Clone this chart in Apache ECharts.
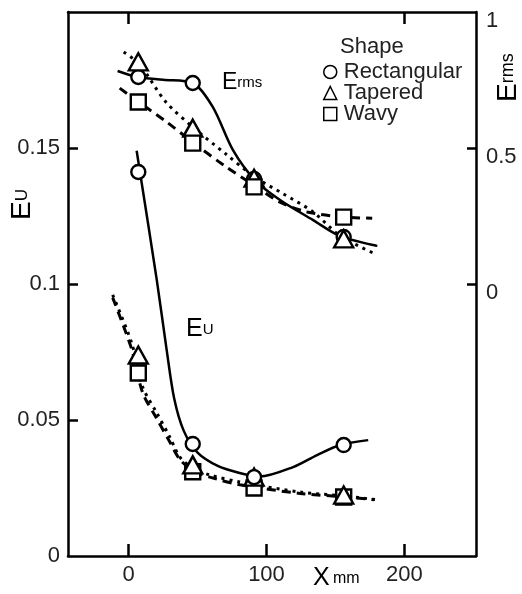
<!DOCTYPE html>
<html>
<head>
<meta charset="utf-8">
<script src="https://cdn.jsdelivr.net/npm/echarts@6/dist/echarts.min.js"></script>
<style>html,body{margin:0;padding:0;background:#fff}#c{width:522px;height:594px}</style>
</head>
<body>
<div id="c"></div>
<script>
// x positions (mm) of the measurement stations
const xStations = [7, 46.5, 91, 156];
// E_rms (right axis) marker values
const ermsRect = [0.761, 0.739, 0.386, 0.173];
const ermsTaper = [0.817, 0.573, 0.389, 0.166];
const ermsWavy = [0.669, 0.518, 0.357, 0.246];
// E_U (left axis) marker values
const euRect = [0.1412, 0.0412, 0.0290, 0.0408];
const euTaper = [0.0739, 0.0335, 0.0290, 0.0224];
const euWavy = [0.0673, 0.0310, 0.0250, 0.0217];
// fitted curves [x, value]
const ermsRectCurve = [[-8,0.783],[6.5,0.761],[25,0.751],[46.5,0.739],[61,0.651],[75.6,0.493],[91.6,0.382],[109.8,0.309],[133.8,0.235],[153.5,0.176],[180.4,0.140]];
const ermsTaperCurve = [[-3.6,0.853],[8,0.807],[27,0.669],[46.5,0.577],[70,0.480],[91.6,0.393],[112,0.332],[133.8,0.265],[153.5,0.177],[179,0.110]];
const ermsWavyCurve = [[-6.5,0.720],[7.3,0.669],[27,0.598],[47.3,0.518],[70,0.433],[91.6,0.361],[109.8,0.301],[129.5,0.265],[155.6,0.246],[176.7,0.242]];
const euRectCurve = [[5.8,0.149],[20.4,0.1015],[27.6,0.0757],[33,0.058],[40,0.046],[50,0.038],[65,0.033],[80.7,0.0305],[95,0.0292],[119.3,0.0327],[136.7,0.0371],[153.5,0.0408],[173.8,0.0426]];
const euTaperCurve = [[-11.6,0.0960],[2.2,0.0783],[10.2,0.0621],[20.4,0.0526],[29.8,0.0438],[37.1,0.0364],[46.5,0.0324],[58.9,0.0298],[80.7,0.0272],[124.4,0.0235],[155.6,0.0221],[181,0.0206]];
const euWavyCurve = [[-11.6,0.0950],[2.2,0.0760],[10.2,0.0600],[20.4,0.0505],[29.8,0.0420],[37.1,0.0355],[46.5,0.0315],[58.9,0.0290],[80.7,0.0262],[124.4,0.0230],[155.6,0.0218],[178,0.0207]];
// tick values
const xTicks = [0, 100, 200];
const xTopTicks = [0, 200];
const leftLabels = [0, 0.05, 0.1, 0.15];
const leftTicks = [0.05, 0.1, 0.15];
const rightLabels = [0, 0.5, 1];
const rightTicks = [0, 0.5];
const shapeNames = ['Rectangular', 'Tapered', 'Wavy'];

const FONT = 'Liberation Sans, Arial, sans-serif';
const zip = (xs, ys) => xs.map((x, i) => [x, ys[i]]);
const axisLine = {show: true, onZero: false, lineStyle: {color: '#000', width: 2.5}};
const lineSeries = (data, yIdx, type, w) => ({
  type: 'line', data, yAxisIndex: yIdx, smooth: 0.3, showSymbol: false, silent: true,
  lineStyle: {color: '#000', width: w, type}, z: 2
});
const mark = (name, symbol, size, data, yIdx) => ({
  type: 'scatter', name, symbol, symbolSize: size, data, yAxisIndex: yIdx,
  itemStyle: {color: '#fff', borderColor: '#000', borderWidth: 2.4, opacity: 1}, z: 5
});

const chart = echarts.init(document.getElementById('c'), null, {renderer: 'canvas'});
chart.setOption({
  animation: false,
  backgroundColor: '#fff',
  textStyle: {fontFamily: FONT},
  grid: {left: 68, top: 12, right: 46, bottom: 38, show: false},
  xAxis: [{
    type: 'value', min: -44, max: 252, position: 'bottom',
    axisLine, splitLine: {show: false},
    axisTick: {show: true, inside: true, length: 12, customValues: xTicks, lineStyle: {color: '#000', width: 2.5}},
    axisLabel: {customValues: xTicks, fontSize: 22, color: '#222', margin: 8, fontFamily: FONT}
  }, {
    type: 'value', min: -44, max: 252, position: 'top',
    axisLine, splitLine: {show: false},
    axisTick: {show: true, inside: true, length: 12, customValues: xTopTicks, lineStyle: {color: '#000', width: 2.5}},
    axisLabel: {show: false}
  }],
  yAxis: [{
    type: 'value', min: 0, max: 0.2, position: 'left',
    axisLine, splitLine: {show: false},
    axisTick: {show: true, inside: true, length: 10, customValues: leftTicks, lineStyle: {color: '#000', width: 2.5}},
    axisLabel: {customValues: leftLabels, fontSize: 22, color: '#222', margin: 8, fontFamily: FONT}
  }, {
    type: 'value', min: -1, max: 1, position: 'right',
    axisLine, splitLine: {show: false},
    axisTick: {show: true, inside: true, length: 9, customValues: rightTicks, lineStyle: {color: '#000', width: 2.5}},
    axisLabel: {customValues: rightLabels, fontSize: 22, color: '#222', margin: 10, verticalAlign: 'top', lineHeight: 18, fontFamily: FONT}
  }],
  legend: {
    data: shapeNames, orient: 'vertical', left: 318, top: 56, itemGap: -1,
    itemWidth: 13, itemHeight: 13, selectedMode: false,
    textStyle: {fontSize: 22, color: '#222', fontFamily: FONT, padding: [0, 0, 0, 2]},
    itemStyle: {borderWidth: 1.5}
  },
  graphic: [
    {type: 'text', left: 340, top: 36, style: {text: 'Shape', font: '22px ' + FONT, fill: '#222'}},
    {type: 'text', left: 222, top: 71, style: {rich: {a: {fontSize: 23, fontFamily: FONT, fill: '#000'}, b: {fontSize: 15, fontFamily: FONT, fill: '#000'}}, text: '{a|E}{b|rms}'}},
    {type: 'text', left: 186, top: 317, style: {rich: {a: {fontSize: 25, fontFamily: FONT, fill: '#000'}, b: {fontSize: 15, fontFamily: FONT, fill: '#000'}}, text: '{a|E}{b|U}'}},
    {type: 'text', left: 313, top: 566, style: {rich: {a: {fontSize: 25, fontFamily: FONT, fill: '#000'}, b: {fontSize: 16, fontFamily: FONT, fill: '#000'}}, text: '{a|X} {b|mm}'}},
    {type: 'text', x: 8, y: 220, rotation: Math.PI / 2, style: {rich: {a: {fontSize: 28, fontFamily: FONT, fill: '#000'}, b: {fontSize: 17, fontFamily: FONT, fill: '#000'}}, text: '{a|E}{b|U}'}},
    {type: 'text', x: 494, y: 102, rotation: Math.PI / 2, style: {rich: {a: {fontSize: 28, fontFamily: FONT, fill: '#000'}, b: {fontSize: 18, fontFamily: FONT, fill: '#000'}}, text: '{a|E}{b|rms}'}}
  ],
  series: [
    lineSeries(ermsRectCurve, 1, 'solid', 2.5),
    lineSeries(ermsTaperCurve, 1, [3, 5], 3),
    lineSeries(ermsWavyCurve, 1, [9, 6], 3),
    lineSeries(euRectCurve, 0, 'solid', 2.5),
    lineSeries(euTaperCurve, 0, [3, 5], 3),
    lineSeries(euWavyCurve, 0, [9, 6], 3),
    mark('Rectangular', 'circle', 14, zip(xStations, ermsRect), 1),
    mark('Tapered', 'triangle', [19, 17], zip(xStations, ermsTaper), 1),
    mark('Wavy', 'rect', 15, zip(xStations, ermsWavy), 1),
    mark('Wavy', 'rect', 15, zip(xStations, euWavy), 0),
    mark('Tapered', 'triangle', [19, 17], zip(xStations, euTaper), 0),
    mark('Rectangular', 'circle', 14, zip(xStations, euRect), 0)
  ]
});
</script>
</body>
</html>
